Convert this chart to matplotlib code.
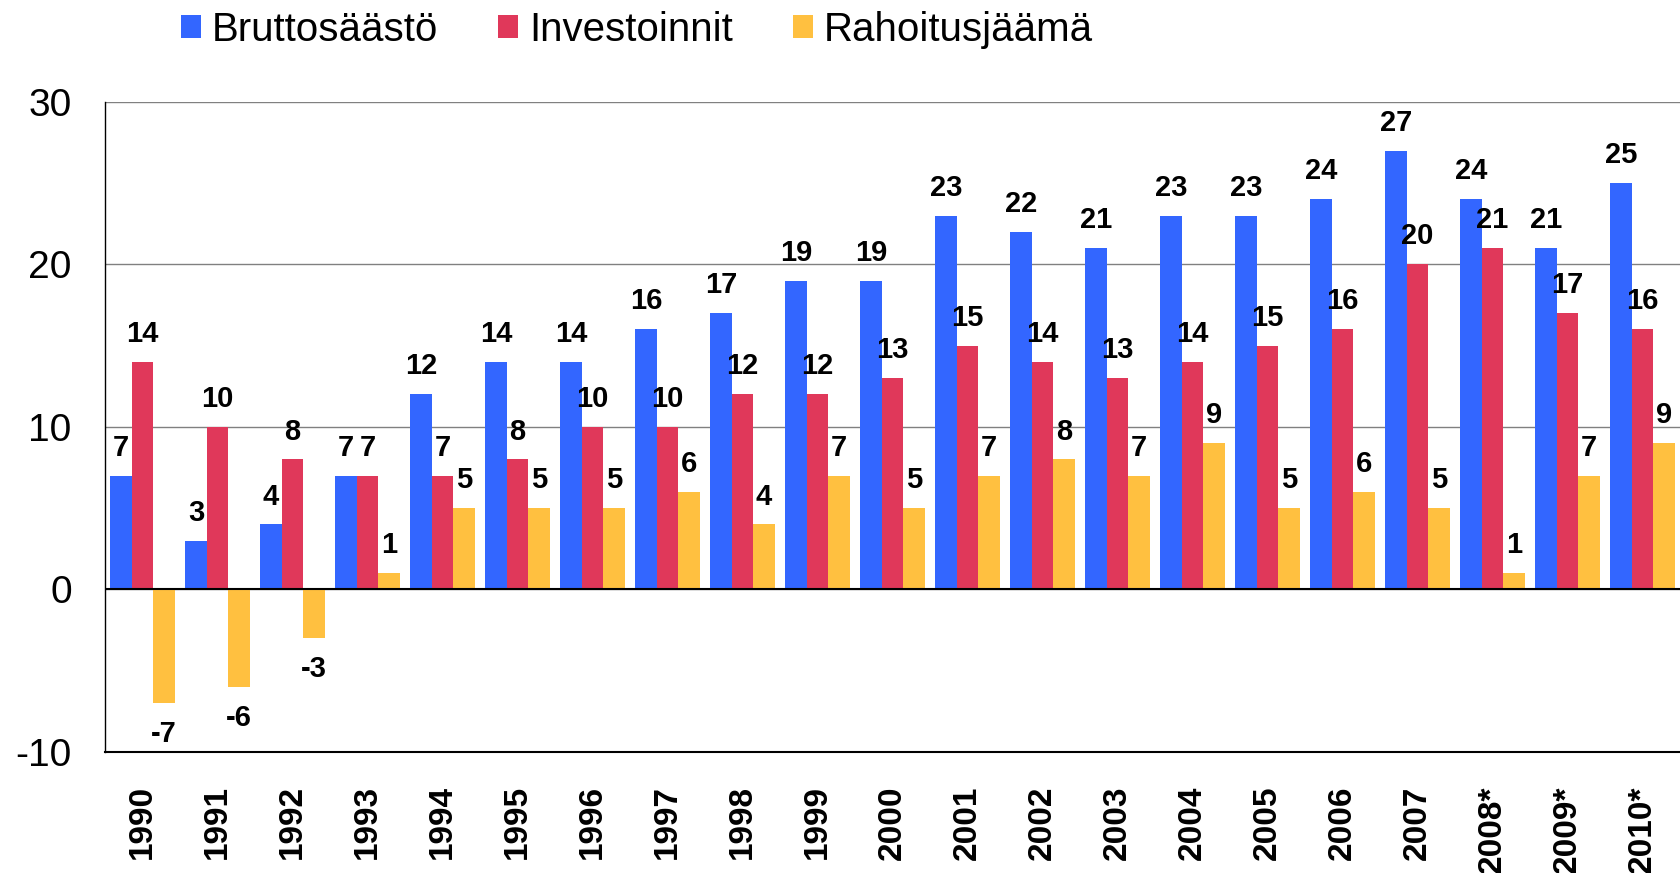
import numpy as np
import matplotlib.pyplot as plt

years = ['1990', '1991', '1992', '1993', '1994', '1995', '1996', '1997', '1998', '1999',
         '2000', '2001', '2002', '2003', '2004', '2005', '2006', '2007', '2008*', '2009*', '2010*']
brutto = [7, 3, 4, 7, 12, 14, 14, 16, 17, 19, 19, 23, 22, 21, 23, 23, 24, 27, 24, 21, 25]
invest = [14, 10, 8, 7, 7, 8, 10, 10, 12, 12, 13, 15, 14, 13, 14, 15, 16, 20, 21, 17, 16]
rahoitus = [-7, -6, -3, 1, 5, 5, 5, 6, 4, 7, 5, 7, 8, 7, 9, 5, 6, 5, 1, 7, 9]

series = [('Bruttosäästö', brutto, '#3366FF'),
          ('Investoinnit', invest, '#E0385A'),
          ('Rahoitusjäämä', rahoitus, '#FFC040')]

plt.rcParams['font.family'] = ['Liberation Sans', 'DejaVu Sans']
plt.rcParams['axes.unicode_minus'] = False

fig = plt.figure(figsize=(16.8, 8.73), dpi=100)
ax = fig.add_axes([0.0625, 0.1386, 0.9375, 0.7448])

x = np.arange(len(years))
w = 0.286
for i, (name, vals, col) in enumerate(series):
    pos = x + (i - 1) * w
    ax.bar(pos, vals, w, color=col, label=name, zorder=3)
    for xx, v in zip(pos, vals):
        if v >= 0:
            ax.annotate(str(v), (xx, v), xytext=(0, 10), textcoords='offset points',
                        ha='center', va='bottom', fontsize=21, fontweight='bold', zorder=5)
        else:
            ax.annotate(str(v), (xx, v), xytext=(0, -12), textcoords='offset points',
                        ha='center', va='top', fontsize=21, fontweight='bold', zorder=5)

ax.set_xlim(-0.5, len(years) - 0.5)
ax.set_ylim(-10, 30)
ax.set_yticks([-10, 0, 10, 20, 30])
ax.yaxis.grid(True, color='#808080', linewidth=1, zorder=0)
ax.axhline(0, color='black', linewidth=1.5, zorder=4)

for s in ['top', 'right']:
    ax.spines[s].set_visible(False)
ax.spines['left'].set_linewidth(1)
ax.spines['bottom'].set_linewidth(1.5)

ax.tick_params(axis='y', length=0, pad=24, labelsize=28)
ax.tick_params(axis='x', length=0, pad=24)
ax.set_xticks(x)
ax.set_xticklabels(years, rotation=90, fontsize=24, fontweight='bold')

fig.legend(loc='center', bbox_to_anchor=(0.379, 0.966), ncol=3, frameon=False,
           prop={'size': 29}, borderaxespad=0, borderpad=0,
           handlelength=0.5, handleheight=0.5, handletextpad=0.26, columnspacing=1.5)

fig.savefig('out.png', dpi=100)
